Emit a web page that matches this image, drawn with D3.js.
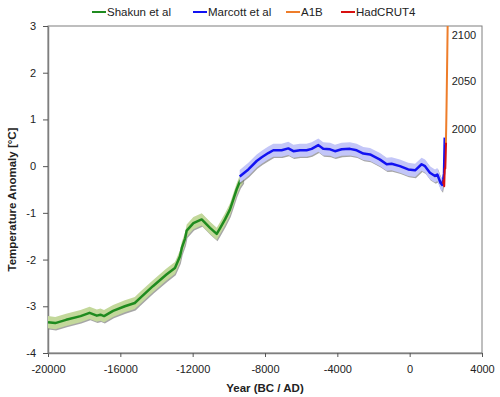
<!DOCTYPE html>
<html>
<head>
<meta charset="utf-8">
<script src="https://cdn.jsdelivr.net/npm/d3@7"></script>
<style>
  body { margin: 0; background: #fff; }
  svg { font-family: "Liberation Sans", Arial, sans-serif; }
</style>
</head>
<body>
<svg width="500" height="397"></svg>
<script>
// data (year, temperature anomaly)
var shakun = [
  [-20000, -3.34], [-19600, -3.36], [-19000, -3.29], [-18200, -3.21], [-17700, -3.14],
  [-17300, -3.20], [-17100, -3.18], [-16900, -3.21], [-16400, -3.10], [-15750, -3.00],
  [-15200, -2.93], [-14900, -2.82], [-14200, -2.57], [-13450, -2.32], [-12980, -2.18],
  [-12700, -1.93], [-12600, -1.75], [-12420, -1.55], [-12330, -1.38], [-11960, -1.22],
  [-11500, -1.14], [-11040, -1.32], [-10670, -1.45], [-10490, -1.33], [-10210, -1.14],
  [-9940, -0.93], [-9750, -0.71], [-9570, -0.50], [-9380, -0.32], [-9200, -0.22]
];
var marcott = [
  [-9400, -0.22], [-8920, -0.07], [-8460, 0.11], [-8180, 0.19], [-7820, 0.28],
  [-7540, 0.34], [-7080, 0.34], [-6710, 0.38], [-6430, 0.32], [-6070, 0.34],
  [-5700, 0.34], [-5420, 0.37], [-5050, 0.45], [-4780, 0.37], [-4400, 0.36],
  [-4130, 0.32], [-3760, 0.36], [-3300, 0.37], [-2930, 0.34], [-2560, 0.27],
  [-2190, 0.25], [-1640, 0.14], [-1270, 0.04], [-1000, 0.05], [-540, 0.00],
  [-80, -0.07], [300, -0.09], [660, 0.04], [850, 0.00], [1120, -0.14],
  [1400, -0.21], [1530, -0.18], [1710, -0.36], [1800, -0.40], [1860, -0.28],
  [1900, -0.15], [1940, 0.61]
];
var a1b = [
  [2000, 0.45], [2010, 0.62], [2020, 0.82], [2030, 1.05], [2040, 1.30], [2050, 1.57],
  [2060, 1.85], [2070, 2.12], [2080, 2.40], [2090, 2.70], [2100, 3.00]
];
var hadcrut = [
  [1850, -0.38], [1880, -0.30], [1910, -0.43], [1940, -0.05], [1970, -0.05],
  [1990, 0.20], [2000, 0.35], [2012, 0.50]
];
var yearLabels = [["2100", 2.8], ["2050", 1.82], ["2000", 0.79]];
var xTicks = [-20000, -16000, -12000, -8000, -4000, 0, 4000];
var yTicks = [-4, -3, -2, -1, 0, 1, 2, 3];

var series = [
  {name: "Shakun et al", values: shakun, color: "#1f8b1f", band: "#c3d89b", err: 0.13, width: 2.5},
  {name: "Marcott et al", values: marcott, color: "#1212f2", band: "#c3c6f8", err: 0.14, width: 2.5},
  {name: "A1B", values: a1b, color: "#ee7d2a", band: null, width: 2},
  {name: "HadCRUT4", values: hadcrut, color: "#d81010", band: null, width: 2}
];

var svg = d3.select("svg"),
    margin = {top: 26, right: 18, bottom: 44, left: 48},
    width = svg.attr("width") - margin.left - margin.right,
    height = svg.attr("height") - margin.top - margin.bottom,
    g = svg.append("g").attr("transform", "translate(" + margin.left + "," + margin.top + ")");

var x = d3.scaleLinear().domain([-20000, 4000]).range([0, width]),
    y = d3.scaleLinear().domain([-4, 3]).range([height, 0]);

var line = d3.line()
    .x(function(d) { return x(d[0]); })
    .y(function(d) { return y(d[1]); });

// plot border (top/right)
g.append("rect")
    .attr("width", width).attr("height", height)
    .attr("fill", "none").attr("stroke", "#7f7f7f").attr("stroke-width", 1);

var axisStyle = function(sel) {
  sel.select(".domain").attr("stroke", "#7f7f7f").attr("stroke-width", 1.5);
  sel.selectAll(".tick line").attr("stroke", "#555");
  sel.selectAll(".tick text").attr("fill", "#222").style("font-size", "11px");
};

g.append("g")
    .attr("transform", "translate(0," + height + ")")
    .call(d3.axisBottom(x).tickValues(xTicks).tickSize(4).tickSizeOuter(0)
      .tickPadding(8).tickFormat(function(d) { return String(d); }))
    .call(axisStyle);

g.append("g")
    .call(d3.axisLeft(y).tickValues(yTicks).tickSize(5).tickSizeOuter(0)
      .tickPadding(7).tickFormat(function(d) { return String(d); }))
    .call(axisStyle);

var plot = g.append("g");

series.forEach(function(s) {
  if (s.band) {
    var area = d3.area()
        .x(function(d) { return x(d[0]); })
        .y0(function(d) { return y(d[1] - s.err); })
        .y1(function(d) { return y(d[1] + s.err); });
    plot.append("path").datum(s.values)
        .attr("d", area)
        .attr("transform", "translate(0.8,1.3)")
        .attr("fill", "#6a6a6a").attr("opacity", 0.6);
    plot.append("path").datum(s.values)
        .attr("d", area)
        .attr("fill", s.band);
  }
  plot.append("path").datum(s.values)
      .attr("d", line)
      .attr("fill", "none")
      .attr("stroke", s.color)
      .attr("stroke-width", s.width)
      .attr("stroke-linejoin", "round");
});

g.selectAll(".yr")
  .data(yearLabels)
  .enter().append("text")
    .attr("x", x(2100) + 4)
    .attr("y", function(d) { return y(d[1]); })
    .attr("dy", "0.35em")
    .style("font-size", "11px")
    .attr("fill", "#222")
    .text(function(d) { return d[0]; });

// axis titles
svg.append("text")
    .attr("x", margin.left + width / 2)
    .attr("y", 392)
    .attr("text-anchor", "middle")
    .style("font-size", "11.5px").style("font-weight", "bold")
    .attr("fill", "#222")
    .text("Year (BC / AD)");

svg.append("text")
    .attr("transform", "translate(16," + (margin.top + height / 2 + 10) + ") rotate(-90)")
    .attr("text-anchor", "middle")
    .style("font-size", "11.5px").style("font-weight", "bold")
    .attr("fill", "#222")
    .text("Temperature Anomaly [°C]");

// legend
var legendX = [92, 193, 286, 341];
var legend = svg.append("g").selectAll("g")
  .data(series)
  .enter().append("g")
    .attr("transform", function(d, i) { return "translate(" + legendX[i] + ",12)"; });
legend.append("line")
    .attr("x1", 0).attr("x2", 14)
    .attr("stroke", function(d) { return d.color; })
    .attr("stroke-width", 2);
legend.append("text")
    .attr("x", 15).attr("dy", "0.35em")
    .style("font-size", "11.5px")
    .attr("fill", "#222")
    .text(function(d) { return d.name; });
</script>
</body>
</html>
